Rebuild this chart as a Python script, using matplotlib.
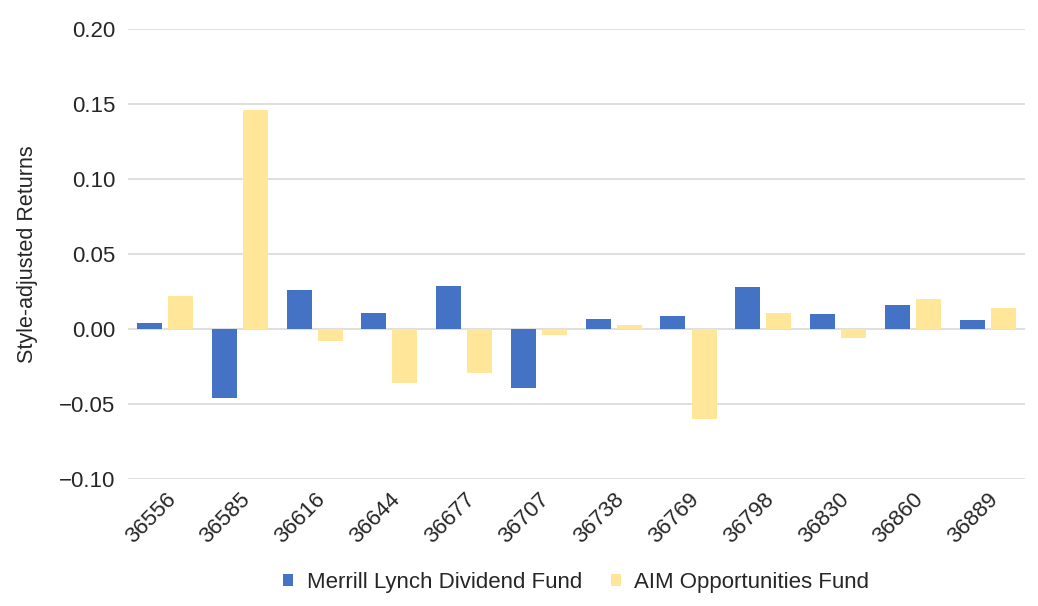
import numpy as np
import matplotlib
matplotlib.use("Agg")
import matplotlib.pyplot as plt

# Data
dates = ["36556", "36585", "36616", "36644", "36677", "36707",
         "36738", "36769", "36798", "36830", "36860", "36889"]
merrill = [0.004, -0.046, 0.026, 0.011, 0.029, -0.039,
           0.007, 0.009, 0.028, 0.010, 0.016, 0.006]
aim = [0.022, 0.146, -0.008, -0.036, -0.029, -0.004,
       0.003, -0.060, 0.011, -0.006, 0.020, 0.014]

plt.rcParams["font.family"] = ["Liberation Sans", "DejaVu Sans"]

fig = plt.figure(figsize=(10.38, 6.06), dpi=100)
ax = fig.add_axes([0.123, 0.2096, 0.8645, 0.7424])

x = np.arange(len(dates))
w = 0.335
ax.bar(x - 0.208, merrill, w, color="#4472C4", label="Merrill Lynch Dividend Fund", zorder=3)
ax.bar(x + 0.208, aim, w, color="#FFE699", label="AIM Opportunities Fund", zorder=3)

ax.set_xlim(-0.5, len(dates) - 0.5)
ax.set_ylim(-0.10, 0.20)
yt = np.arange(-0.10, 0.201, 0.05)
ax.set_yticks(yt)
ax.set_yticklabels([f"{v:.2f}".replace("-", "\u2212") for v in yt])
ax.set_xticks(x)
ax.set_xticklabels(dates, rotation=45, ha="right", rotation_mode="anchor")

ax.grid(axis="y", color="#D9D9D9", linewidth=1.2, zorder=0)
for s in ax.spines.values():
    s.set_visible(False)
ax.tick_params(axis="both", length=0, labelsize=16, colors="#262626")
ax.tick_params(axis="y", pad=9)
ax.tick_params(axis="x", pad=7)

ax.set_ylabel("Style-adjusted Returns", fontsize=15.5, color="#262626", labelpad=15)

ax.legend(loc="upper center", bbox_to_anchor=(0.5, -0.162), ncol=2, frameon=False,
          fontsize=16, handlelength=0.45, handleheight=0.45, handletextpad=0.6,
          columnspacing=1.3, labelcolor="#262626")

plt.savefig("out.png", dpi=100)
